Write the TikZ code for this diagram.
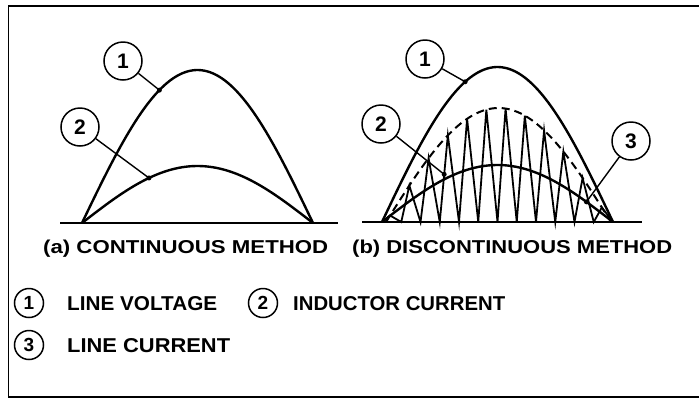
\documentclass[tikz,border=0pt]{standalone}
\usepackage{fontspec}
\setsansfont{Liberation Sans}
\usetikzlibrary{calc}
\newcommand\fitt[3]{\resizebox{#1}{#2}{\sffamily\bfseries #3}}
\begin{document}
\begin{tikzpicture}[x=1pt,y=-1pt,
  curve/.style={line width=2.4pt,line join=round},
  tooth/.style={line width=1.8pt,line join=miter},
  axis/.style={line width=2.4pt},
  tag/.style={circle,draw,line width=1.5pt,minimum size=38pt,inner sep=0pt,
              font=\sffamily\bfseries\fontsize{21}{21}\selectfont},
  ltag/.style={circle,draw,line width=1.5pt,minimum size=29pt,inner sep=0pt,
              font=\sffamily\bfseries\fontsize{19}{19}\selectfont},
  lead/.style={line width=1.4pt},
  dotm/.style={circle,fill,inner sep=0pt,minimum size=5pt},
  txt/.style={inner sep=0pt,anchor=base west}]
\useasboundingbox (0,0) rectangle (699,400);
% frame
\draw[line width=1.6pt] (700,6) -- (8.5,6) -- (8.5,397) -- (700,397);

% ---------- panel (a) ----------
\draw[axis] (60,223) -- (338,223);
\draw[curve] plot[domain=0:1,samples=80] ({82+231*\x},{223-153*sin(180*\x)});
\draw[curve] plot[domain=0:1,samples=80] ({82+231*\x},{223-57*sin(180*\x)});
\coordinate (a1) at ({82+231*0.335},{223-153*sin(180*0.335)});
\coordinate (a2) at ({82+231*0.29},{223-57*sin(180*0.29)});
\node[dotm] at (a1) {};
\node[dotm] at (a2) {};
\node[tag] (ta1) at (123,61) {1};
\node[tag] (ta2) at (80,127) {2};
\draw[lead] (ta1) -- (a1);
\draw[lead] (ta2) -- (a2);
\node[txt] (la) at (43,253.5) {\fitt{285pt}{13.5pt}{(a) CONTINUOUS METHOD}};

% ---------- panel (b) ----------
\draw[axis] (362,222) -- (642,222);
\draw[curve] plot[domain=0:1,samples=80] ({382+231*\x},{222-155*sin(180*\x)});
\draw[line width=2pt,dash pattern=on 8pt off 5pt]
  plot[domain=0:1,samples=80] ({386+225*\x},{222-114*sin(180*\x)});
\draw[curve] plot[domain=0:1,samples=80] ({382+231*\x},{222-57*sin(180*\x)});
\draw[tooth] (382,222)
  \foreach \k in {0,...,11} {
    -- ({382+(\k+0.42)*19.25},{222-114*sin(180*max(0,min(1,((\k+0.42)*19.25-4)/225)))})
       coordinate (p\k)
    -- ({382+(\k+1)*19.25},222) coordinate (v\k)
  };
\coordinate (b1) at ({382+231*0.36},{222-155*sin(180*0.36)});
\coordinate (b2) at ($(v2)!0.55!(p3)$);
\coordinate (b3) at ({382+231*0.885},{222-57*sin(180*0.885)});
\node[dotm] at (b1) {};
\node[dotm] at (b2) {};
\node[dotm] at (b3) {};
\node[tag] (tb1) at (425,59) {1};
\node[tag] (tb2) at (381,124) {2};
\node[tag] (tb3) at (631,141) {3};
\draw[lead] (tb1) -- (b1);
\draw[lead] (tb2) -- (b2);
\draw[lead] (tb3) -- (b3);
\node[txt] (lb) at (352,253.5) {\fitt{320pt}{13.5pt}{(b) DISCONTINUOUS METHOD}};

% ---------- legend ----------
\node[ltag] (k1) at (29,303) {1};
\node[txt] (k1t) at (67,310) {\fitt{150pt}{14pt}{LINE VOLTAGE}};
\node[ltag] (k2) at (263,303) {2};
\node[txt] (k2t) at (293,310) {\fitt{212pt}{14pt}{INDUCTOR CURRENT}};
\node[ltag] (k3) at (29,345) {3};
\node[txt] (k3t) at (67,352) {\fitt{163pt}{14pt}{LINE CURRENT}};
\end{tikzpicture}
\end{document}
